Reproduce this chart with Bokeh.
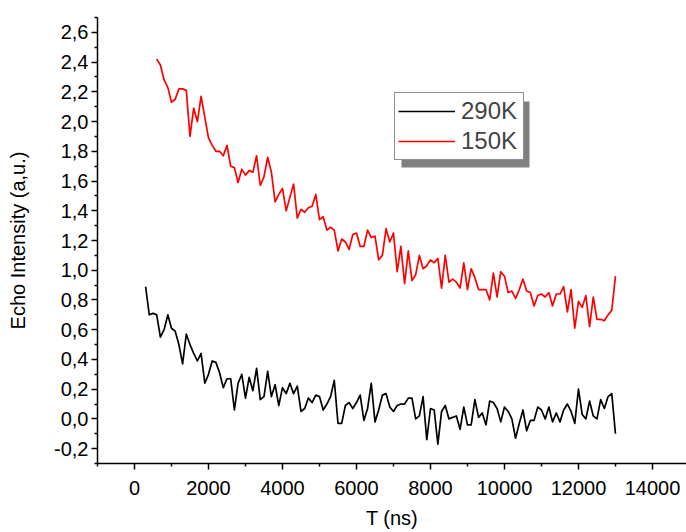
from bokeh.plotting import figure
from bokeh.models import (Range1d, FixedTicker, CustomJSTickFormatter, Legend,
                          LegendItem, BoxAnnotation)
from bokeh.embed import file_html
from bokeh.resources import INLINE

# ---------------- data ----------------
t_290K = list(range(300, 13001, 100))      # ns, sampling grid
echo_290K = [
    0.89, 0.70, 0.71, 0.70, 0.55, 0.60, 0.70, 0.61, 0.59, 0.50,
    0.37, 0.57, 0.50, 0.44, 0.39, 0.44, 0.24, 0.30, 0.39, 0.38,
    0.31, 0.21, 0.27, 0.27, 0.06, 0.24, 0.30, 0.14, 0.28, 0.19,
    0.34, 0.13, 0.15, 0.32, 0.15, 0.23, 0.09, 0.21, 0.17, 0.24,
    0.17, 0.22, 0.05,
    0.07, 0.14, 0.11, 0.16, 0.15, 0.06, 0.10, 0.15, 0.26, -0.03,
    -0.03, 0.09, 0.11, 0.07, 0.11, 0.16, -0.01, 0.07, 0.24, -0.02,
    0.06, 0.16, 0.17, 0.08, 0.05, 0.09, 0.10, 0.10, 0.14, 0.14,
    0.00, 0.02, 0.15, -0.14, 0.07, 0.06, -0.17, 0.05, 0.09, 0.00,
    0.01, 0.02, -0.07, 0.08, -0.04, -0.04, 0.13, 0.01, 0.04, -0.04,
    0.12, 0.11, 0.07, -0.02, 0.08, 0.05, 0.00, -0.13, -0.03, 0.06,
    -0.08, -0.01, -0.01, 0.08, 0.06, 0.00, 0.08, -0.02, 0.04, -0.02,
    0.06, 0.10, 0.05, -0.03, 0.20, 0.03, 0.00, 0.12, 0.02, 0.00,
    0.13, 0.07, 0.15, 0.17, -0.10,
]

t_150K = list(range(600, 13001, 100))      # ns, sampling grid
echo_150K = [
    2.42, 2.38, 2.28, 2.23, 2.13, 2.15, 2.22, 2.22, 2.21, 1.90,
    2.09, 2.00, 2.17, 2.03, 1.89, 1.84, 1.80, 1.80, 1.77, 1.84,
    1.70, 1.69, 1.59, 1.68, 1.64, 1.67, 1.66, 1.77, 1.57, 1.63,
    1.76, 1.66, 1.46, 1.51, 1.55, 1.40, 1.49, 1.58, 1.35, 1.41,
    1.39, 1.42, 1.43, 1.51, 1.34, 1.36, 1.27, 1.29, 1.27, 1.13,
    1.21, 1.19, 1.14, 1.24, 1.25, 1.16, 1.16, 1.27, 1.22, 1.23,
    1.07, 1.10,
    1.28, 1.19, 1.25, 0.99, 1.16, 0.91, 1.13, 0.93, 0.97, 1.10,
    1.01, 1.03, 1.07, 1.05, 1.08, 0.88, 1.10, 0.92, 0.94, 0.92,
    0.88, 1.05, 0.87, 1.01, 0.95, 0.87, 0.87, 0.87, 0.80, 0.98,
    0.82,
    0.99, 0.96, 0.85, 0.86, 0.81, 0.87, 0.94, 0.86, 0.85, 0.76,
    0.83, 0.84, 0.82, 0.85, 0.76, 0.84, 0.84, 0.89, 0.72, 0.87,
    0.61, 0.79, 0.75, 0.83, 0.62, 0.82, 0.67, 0.67, 0.66, 0.70,
    0.73, 0.96,
]

series_labels = ["290K", "150K"]
series_colors = ["#000000", "#ff0000"]

x_ticks = [0, 2000, 4000, 6000, 8000, 10000, 12000, 14000]
x_minor = [-1000, 1000, 3000, 5000, 7000, 9000, 11000, 13000]
y_ticks = [-0.2, 0.0, 0.2, 0.4, 0.6, 0.8, 1.0, 1.2, 1.4, 1.6, 1.8, 2.0, 2.2, 2.4, 2.6]
y_minor = [-0.3, -0.1, 0.1, 0.3, 0.5, 0.7, 0.9, 1.1, 1.3, 1.5, 1.7, 1.9, 2.1, 2.3, 2.5, 2.7]

x_label = "T (ns)"
y_label = "Echo Intensity (a,u.)"

# ---------------- figure ----------------
W, H = 686, 532
BL, BR, BT, BB = 97, 0, 17, 69
X0, X1 = -1000, 14920
Y0, Y1 = -0.3, 2.7

p = figure(width=W, height=H, output_backend="svg", toolbar_location=None,
           x_range=Range1d(X0, X1), y_range=Range1d(Y0, Y1),
           min_border_left=BL, min_border_right=BR,
           min_border_top=BT, min_border_bottom=BB)
p.outline_line_color = None
p.grid.visible = False
p.background_fill_color = "white"
p.border_fill_color = "white"

FONT = "Liberation Sans"
for ax in (p.xaxis[0], p.yaxis[0]):
    ax.axis_line_width = 1.5
    ax.axis_line_color = "black"
    ax.major_tick_line_width = 1.5
    ax.minor_tick_line_width = 1.5
    ax.major_tick_line_color = "black"
    ax.minor_tick_line_color = "black"
    ax.major_tick_in = 0
    ax.major_tick_out = 6
    ax.minor_tick_in = 0
    ax.minor_tick_out = 3
    ax.major_label_text_font = FONT
    ax.major_label_text_font_size = "20px"
    ax.major_label_text_color = "black"
    ax.axis_label_text_font = FONT
    ax.axis_label_text_font_style = "normal"
    ax.axis_label_text_font_size = "20px"
    ax.axis_label_text_color = "black"

p.xaxis[0].ticker = FixedTicker(ticks=x_ticks, minor_ticks=x_minor)
p.yaxis[0].ticker = FixedTicker(ticks=y_ticks, minor_ticks=y_minor)
p.xaxis[0].formatter = CustomJSTickFormatter(code="return tick.toFixed(0);")
p.yaxis[0].formatter = CustomJSTickFormatter(code="return tick.toFixed(1).replace('.', ',');")
p.xaxis[0].axis_label = x_label
p.yaxis[0].axis_label = y_label
p.xaxis[0].major_label_standoff = 11
p.xaxis[0].axis_label_standoff = 9
p.yaxis[0].major_label_standoff = 3
p.yaxis[0].axis_label_standoff = 22

r_black = p.line(t_290K, echo_290K, line_color=series_colors[0], line_width=1.7,
                 line_join="round")
r_red = p.line(t_150K, echo_150K, line_color=series_colors[1], line_width=1.7,
               line_join="round")

# ---------------- legend with drop shadow ----------------
frame_w = W - BL - BR
frame_h = H - BT - BB
def px_to_x(px):   # px from frame left
    return X0 + px * (X1 - X0) / frame_w
def px_to_y(py):   # px from frame bottom
    return Y0 + py * (Y1 - Y0) / frame_h

leg_x, leg_y, leg_w, leg_h, shadow = 297, 303, 128, 66, 7
p.add_layout(BoxAnnotation(left=px_to_x(leg_x + shadow), right=px_to_x(leg_x + leg_w + shadow),
                           bottom=px_to_y(leg_y - shadow), top=px_to_y(leg_y + leg_h - shadow),
                           fill_color="#808080", fill_alpha=1.0, line_color=None))

legend = Legend(items=[LegendItem(label=series_labels[0], renderers=[r_black]),
                       LegendItem(label=series_labels[1], renderers=[r_red])],
                location=(leg_x, leg_y), padding=3, spacing=0,
                glyph_width=57, glyph_height=30, label_height=30, label_width=59,
                label_standoff=6, margin=0,
                label_text_font=FONT, label_text_font_size="24px",
                border_line_color="#202020", border_line_width=1.5,
                background_fill_color="white", background_fill_alpha=1.0)
p.add_layout(legend, "center")

open("out.html", "w").write(file_html(p, INLINE))
